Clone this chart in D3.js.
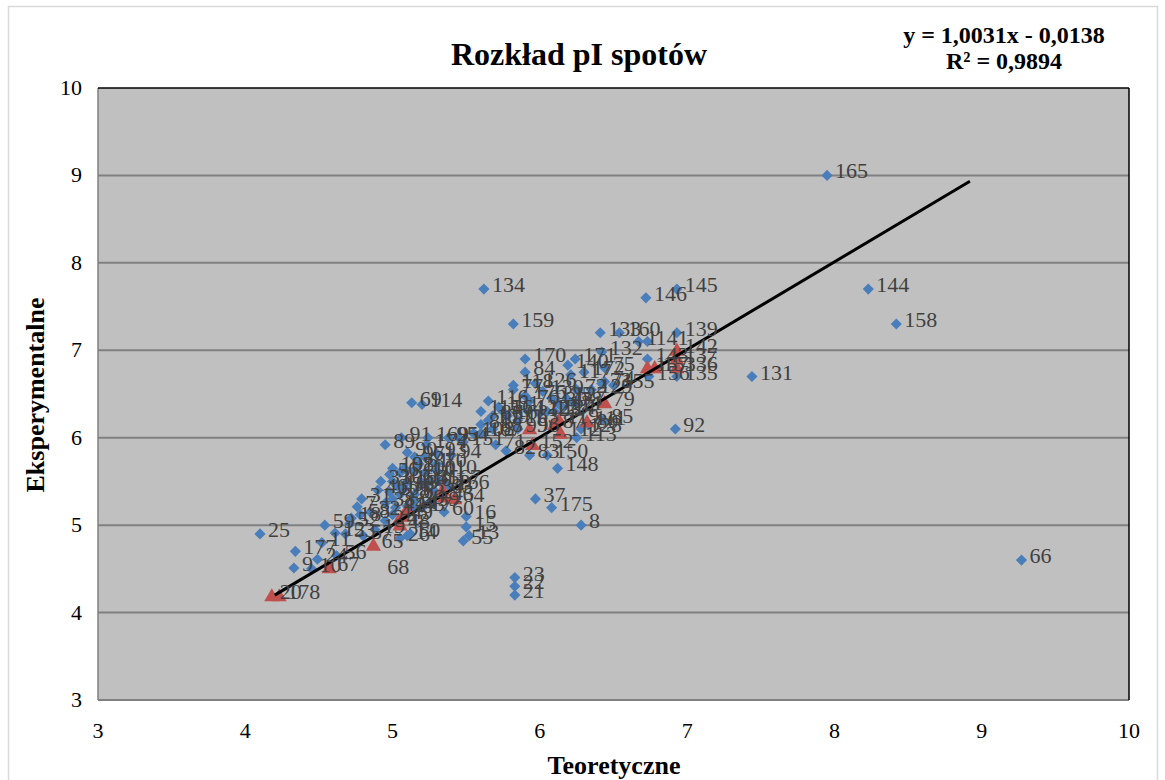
<!DOCTYPE html>
<html>
<head>
<meta charset="utf-8">
<style>
  body { margin: 0; background: #fff; }
  svg { display: block; }
</style>
</head>
<body>
<svg width="1165" height="780"></svg>

<script src="https://d3js.org/d3.v7.min.js"></script>
<script>
// blue spots: id, theoretical pI, experimental pI
var spotIds = [165,144,158,131,66,134,159,146,145,139,92,135,133,160,1,141,132,143,156,171,170,75,84,140,117,172,73,74,118,126,77,176,76,130,30,78,116,161,115,164,86,122,123,124,85,80,113,128,99,71,82,83,150,148,151,94,95,54,169,91,89,174,90,97,93,102,98,100,101,104,110,167,106,103,105,3,36,62,166,29,28,17,60,37,175,8,16,15,13,55,23,22,21,31,7,58,18,52,59,12,53,57,11,24,56,177,9,10,25,19,32,2,4,50,26,14,41,44,43,38,39,34,35,40,46,33,5,6,51,61,70,72,81,88,107,108,109,120,121,125,127,129,155,162,163,114,69];
var spotTheor = [7.95,8.23,8.42,7.44,9.27,5.62,5.82,6.72,6.93,6.93,6.92,6.93,6.41,6.54,6.67,6.73,6.42,6.73,6.74,6.24,5.90,6.44,5.90,6.19,6.21,6.30,6.42,6.44,5.82,5.97,5.82,5.90,5.93,6.02,6.12,6.22,5.65,5.72,5.60,5.75,5.68,5.92,6.00,6.10,6.43,6.33,6.25,6.28,5.85,5.70,5.77,5.93,6.05,6.12,5.48,5.40,5.38,5.45,5.24,5.06,4.95,5.23,5.10,5.15,5.30,5.00,5.08,5.15,5.22,5.10,5.30,5.32,5.00,5.03,4.98,5.00,5.08,5.15,5.38,5.15,5.05,5.20,5.35,5.97,6.08,6.28,5.50,5.50,5.52,5.48,5.83,5.83,5.83,4.79,4.76,4.78,4.72,4.71,4.54,4.61,4.68,4.80,4.52,4.49,4.62,4.34,4.33,4.45,4.10,4.88,4.85,4.95,5.00,5.12,5.05,5.10,5.02,5.10,5.15,4.95,5.25,5.28,5.25,5.20,4.90,4.92,4.98,5.05,5.18,5.22,5.30,6.25,5.60,5.68,5.60,5.55,5.65,6.05,6.15,6.08,6.18,6.35,6.50,5.78,5.85,5.20,5.13];
var spotExper = [9.0,7.7,7.3,6.7,4.6,7.7,7.3,7.6,7.7,7.2,6.1,6.7,7.2,7.2,7.1,7.1,6.98,6.9,6.7,6.9,6.9,6.8,6.75,6.83,6.72,6.75,6.62,6.64,6.6,6.62,6.55,6.48,6.42,6.53,6.4,6.4,6.42,6.35,6.3,6.3,6.25,6.3,6.28,6.3,6.2,6.15,6.0,6.1,6.1,5.92,5.85,5.8,5.8,5.65,5.95,5.8,6.0,6.0,6.0,6.0,5.92,5.92,5.83,5.78,5.82,5.65,5.65,5.62,5.6,5.5,5.62,5.5,5.5,5.45,5.38,5.3,5.42,5.35,5.45,5.28,5.35,5.2,5.15,5.3,5.2,5.0,5.1,4.98,4.88,4.82,4.4,4.3,4.2,5.3,5.21,5.12,5.08,5.02,5.0,4.91,4.9,4.88,4.8,4.61,4.65,4.7,4.51,4.5,4.9,4.95,5.15,5.05,5.12,4.9,4.85,4.88,5.2,5.22,5.2,5.25,5.25,5.4,5.5,5.48,5.4,5.5,5.58,5.6,5.7,5.78,5.7,6.55,6.15,6.1,6.05,6.05,6.2,6.3,6.35,6.45,6.45,6.55,6.6,6.25,6.2,6.38,6.4];

// red spots (on the diagonal)
var triIds = [20,178,67,65,48,49,27,42,63,64,45,96,152,87,119,112,111,79,157,153,142,137,136];
var triTheor = [4.18,4.23,4.57,4.87,5.05,5.07,5.10,5.04,5.34,5.42,5.35,5.93,5.95,6.10,6.13,6.14,6.32,6.44,6.73,6.78,6.93,6.93,6.93];
var triExper = [4.19,4.19,4.51,4.77,5.0,5.1,5.18,5.05,5.4,5.3,5.32,6.1,5.92,6.15,6.2,6.05,6.18,6.4,6.8,6.8,7.0,6.9,6.8];

// spot without a visible marker
var bareIds = [68];
var bareTheor = [4.91];
var bareExper = [4.47];

var xTicks = [3,4,5,6,7,8,9,10];
var yTicks = [3,4,5,6,7,8,9,10];

var slope = 1.0031, intercept = -0.0138;
var fitFrom = 4.2, fitTo = 8.92;

var svg = d3.select('svg');
var plotL = 98, plotR = 1129, plotT = 88, plotB = 700;
var x = d3.scaleLinear().domain([3, 10]).range([plotL, plotR]);
var y = d3.scaleLinear().domain([3, 10]).range([plotB, plotT]);
var serif = '"Liberation Serif", "Times New Roman", serif';

// outer chart border
svg.append('rect').attr('x', 8.5).attr('y', 6.5).attr('width', 1149).attr('height', 790)
  .attr('fill', '#fff').attr('stroke', '#d9d9d9').attr('stroke-width', 1.5);

// plot area
svg.append('rect').attr('x', plotL).attr('y', plotT).attr('width', plotR - plotL).attr('height', plotB - plotT)
  .attr('fill', '#c0c0c0');

svg.append('g').selectAll('line').data(yTicks.slice(1, -1)).enter().append('line')
  .attr('x1', plotL).attr('x2', plotR)
  .attr('y1', function(d) { return y(d); }).attr('y2', function(d) { return y(d); })
  .attr('stroke', '#808080').attr('stroke-width', 2);

svg.append('line').attr('x1', plotL).attr('x2', plotR).attr('y1', plotB).attr('y2', plotB)
  .attr('stroke', '#808080').attr('stroke-width', 2);
svg.append('line').attr('x1', plotL).attr('x2', plotL).attr('y1', plotT).attr('y2', plotB)
  .attr('stroke', '#808080').attr('stroke-width', 1.5);
svg.append('line').attr('x1', plotL).attr('x2', plotR).attr('y1', plotT).attr('y2', plotT)
  .attr('stroke', '#000').attr('stroke-width', 1.5);
svg.append('line').attr('x1', plotR).attr('x2', plotR).attr('y1', plotT).attr('y2', plotB)
  .attr('stroke', '#000').attr('stroke-width', 1.5);

// tick labels
svg.append('g').selectAll('text').data(xTicks).enter().append('text')
  .attr('x', function(d) { return x(d); }).attr('y', 738)
  .attr('text-anchor', 'middle').attr('font-family', serif).attr('font-size', 22)
  .text(function(d) { return d; });
svg.append('g').selectAll('text').data(yTicks).enter().append('text')
  .attr('x', 82).attr('y', function(d) { return y(d) + 7; })
  .attr('text-anchor', 'end').attr('font-family', serif).attr('font-size', 22)
  .text(function(d) { return d; });

// points
var blue = spotIds.map(function(id, i) { return {id: id, tx: spotTheor[i], ex: spotExper[i]}; });
var red = triIds.map(function(id, i) { return {id: id, tx: triTheor[i], ex: triExper[i]}; });
var bare = bareIds.map(function(id, i) { return {id: id, tx: bareTheor[i], ex: bareExper[i]}; });

var diamond = d3.symbol().type(d3.symbolSquare).size(62);
var tri = d3.symbol().type(d3.symbolTriangle).size(100);

svg.append('g').selectAll('path').data(blue).enter().append('path')
  .attr('d', diamond)
  .attr('transform', function(d) { return 'translate(' + x(d.tx) + ',' + y(d.ex) + ') rotate(45)'; })
  .attr('fill', '#4a7ebb');

svg.append('g').selectAll('path').data(red).enter().append('path')
  .attr('d', tri)
  .attr('transform', function(d) { return 'translate(' + x(d.tx) + ',' + (y(d.ex) + 1) + ')'; })
  .attr('fill', '#c0504d');

// trend line
svg.append('line')
  .attr('x1', x(fitFrom)).attr('y1', y(slope * fitFrom + intercept))
  .attr('x2', x(fitTo)).attr('y2', y(slope * fitTo + intercept))
  .attr('stroke', '#000').attr('stroke-width', 3);

// point labels
svg.append('g').selectAll('text').data(blue.concat(red, bare)).enter().append('text')
  .attr('x', function(d) { return x(d.tx) + 8; })
  .attr('y', function(d) { return y(d.ex) + 3; })
  .attr('font-family', serif).attr('font-size', 22).attr('fill', '#404040')
  .text(function(d) { return d.id; });

// titles
svg.append('text').attr('x', 579).attr('y', 65).attr('text-anchor', 'middle')
  .attr('font-family', serif).attr('font-size', 32).attr('font-weight', 'bold')
  .text('Rozkład pI spotów');
svg.append('text').attr('x', 1004).attr('y', 43).attr('text-anchor', 'middle')
  .attr('font-family', serif).attr('font-size', 24).attr('font-weight', 'bold')
  .text('y = 1,0031x - 0,0138');
svg.append('text').attr('x', 1004).attr('y', 69).attr('text-anchor', 'middle')
  .attr('font-family', serif).attr('font-size', 24).attr('font-weight', 'bold')
  .text('R² = 0,9894');
svg.append('text').attr('x', 614).attr('y', 774).attr('text-anchor', 'middle')
  .attr('font-family', serif).attr('font-size', 26).attr('font-weight', 'bold')
  .text('Teoretyczne');
svg.append('text').attr('transform', 'translate(44,395) rotate(-90)').attr('text-anchor', 'middle')
  .attr('font-family', serif).attr('font-size', 26).attr('font-weight', 'bold')
  .text('Eksperymentalne');
</script>
</body>
</html>
